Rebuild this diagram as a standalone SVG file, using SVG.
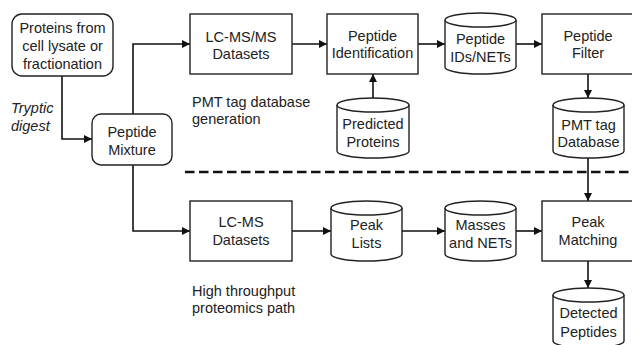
<svg xmlns="http://www.w3.org/2000/svg" width="632" height="345" viewBox="0 0 632 345">
<defs>
<marker id="ah" markerUnits="userSpaceOnUse" markerWidth="9" markerHeight="8" refX="8" refY="4" orient="auto">
<path d="M0,0 L8,4 L0,8 Z" fill="#111"/>
</marker>
<style>
.box{fill:#fff;stroke:#222;stroke-width:1.4}
.cyl{fill:#fff;stroke:#222;stroke-width:1.4}
.t{font-family:"Liberation Sans",Arial,sans-serif;font-size:14.5px;fill:#222;text-anchor:middle}
.l{font-family:"Liberation Sans",Arial,sans-serif;font-size:14.5px;fill:#222}
.it{font-style:italic}
.c{fill:none;stroke:#111;stroke-width:1.6}
.dash{fill:none;stroke:#111;stroke-width:2.6;stroke-dasharray:9.5 4.5}
</style>
</defs>
<rect width="632" height="345" fill="#fff"/>

<g id="connectors">
<path class="c" d="M62,76 V139 H92" marker-end="url(#ah)"/>
<path class="c" d="M133,114 V44 H190" marker-end="url(#ah)"/>
<path class="c" d="M133,165 V231 H190" marker-end="url(#ah)"/>
<path class="c" d="M292,44 H327" marker-end="url(#ah)"/>
<path class="c" d="M418,44 H445" marker-end="url(#ah)"/>
<path class="c" d="M516,44 H542" marker-end="url(#ah)"/>
<path class="c" d="M373,98 V74" marker-end="url(#ah)"/>
<path class="c" d="M588,74 V98" marker-end="url(#ah)"/>
<path class="c" d="M588,158 V201" marker-end="url(#ah)"/>
<path class="c" d="M292,231 H331" marker-end="url(#ah)"/>
<path class="c" d="M402,231 H445" marker-end="url(#ah)"/>
<path class="c" d="M516,231 H542" marker-end="url(#ah)"/>
<path class="c" d="M588,261 V288" marker-end="url(#ah)"/>
</g>

<g id="divider">
<line class="dash" x1="185" y1="172" x2="632" y2="172"/>
</g>

<g id="proteins">
<rect class="box" x="12" y="14" width="101" height="62" rx="10"/>
<text class="t" x="62.5" y="33">Proteins from</text>
<text class="t" x="62.5" y="51">cell lysate or</text>
<text class="t" x="62.5" y="69">fractionation</text>
</g>

<g id="tryptic-label">
<text class="l it" x="11" y="113">Tryptic</text>
<text class="l it" x="11" y="131">digest</text>
</g>

<g id="mixture">
<rect class="box" x="92" y="114" width="80" height="51" rx="9"/>
<text class="t" x="132" y="137">Peptide</text>
<text class="t" x="132" y="155">Mixture</text>
</g>

<g id="lcmsms">
<rect class="box" x="190" y="14" width="102" height="60"/>
<text class="t" x="241" y="42">LC-MS/MS</text>
<text class="t" x="241" y="59">Datasets</text>
</g>

<g id="pmt-label">
<text class="l" x="192" y="107">PMT tag database</text>
<text class="l" x="192" y="124">generation</text>
</g>

<g id="pepid">
<rect class="box" x="327" y="14" width="91" height="60"/>
<text class="t" x="372.5" y="41">Peptide</text>
<text class="t" x="372.5" y="58">Identification</text>
</g>

<g id="pepids-nets">
<path class="cyl" d="M445,20 V67 A35.5,7 0 0 0 516,67 V20"/>
<ellipse class="cyl" cx="480.5" cy="20" rx="35.5" ry="7"/>
<text class="t" x="480.5" y="44">Peptide</text>
<text class="t" x="480.5" y="62">IDs/NETs</text>
</g>

<g id="filter">
<rect class="box" x="542" y="14" width="94" height="60"/>
<text class="t" x="588" y="41">Peptide</text>
<text class="t" x="588" y="58">Filter</text>
</g>

<g id="predicted">
<path class="cyl" d="M337,105 V151 A36,7 0 0 0 409,151 V105"/>
<ellipse class="cyl" cx="373" cy="105" rx="36" ry="7"/>
<text class="t" x="373" y="129">Predicted</text>
<text class="t" x="373" y="147">Proteins</text>
</g>

<g id="pmtdb">
<path class="cyl" d="M553,105 V151 A35.5,7 0 0 0 624,151 V105"/>
<ellipse class="cyl" cx="588.5" cy="105" rx="35.5" ry="7"/>
<text class="t" x="588.5" y="130">PMT tag</text>
<text class="t" x="588.5" y="147">Database</text>
</g>

<g id="lcms">
<rect class="box" x="190" y="201" width="102" height="60"/>
<text class="t" x="241" y="227">LC-MS</text>
<text class="t" x="241" y="245">Datasets</text>
</g>

<g id="ht-label">
<text class="l" x="192" y="296">High throughput</text>
<text class="l" x="192" y="313">proteomics path</text>
</g>

<g id="peaklists">
<path class="cyl" d="M331,208 V254 A35.5,7 0 0 0 402,254 V208"/>
<ellipse class="cyl" cx="366.5" cy="208" rx="35.5" ry="7"/>
<text class="t" x="366.5" y="230">Peak</text>
<text class="t" x="366.5" y="248">Lists</text>
</g>

<g id="masses">
<path class="cyl" d="M445,208 V254 A35.5,7 0 0 0 516,254 V208"/>
<ellipse class="cyl" cx="480.5" cy="208" rx="35.5" ry="7"/>
<text class="t" x="480.5" y="230">Masses</text>
<text class="t" x="480.5" y="248">and NETs</text>
</g>

<g id="peakmatch">
<rect class="box" x="542" y="201" width="94" height="60"/>
<text class="t" x="588" y="227">Peak</text>
<text class="t" x="588" y="245">Matching</text>
</g>

<g id="detected">
<path class="cyl" d="M553,295 V341 A35.5,7 0 0 0 624,341 V295"/>
<ellipse class="cyl" cx="588.5" cy="295" rx="35.5" ry="7"/>
<text class="t" x="588.5" y="318">Detected</text>
<text class="t" x="588.5" y="337">Peptides</text>
</g>
</svg>
